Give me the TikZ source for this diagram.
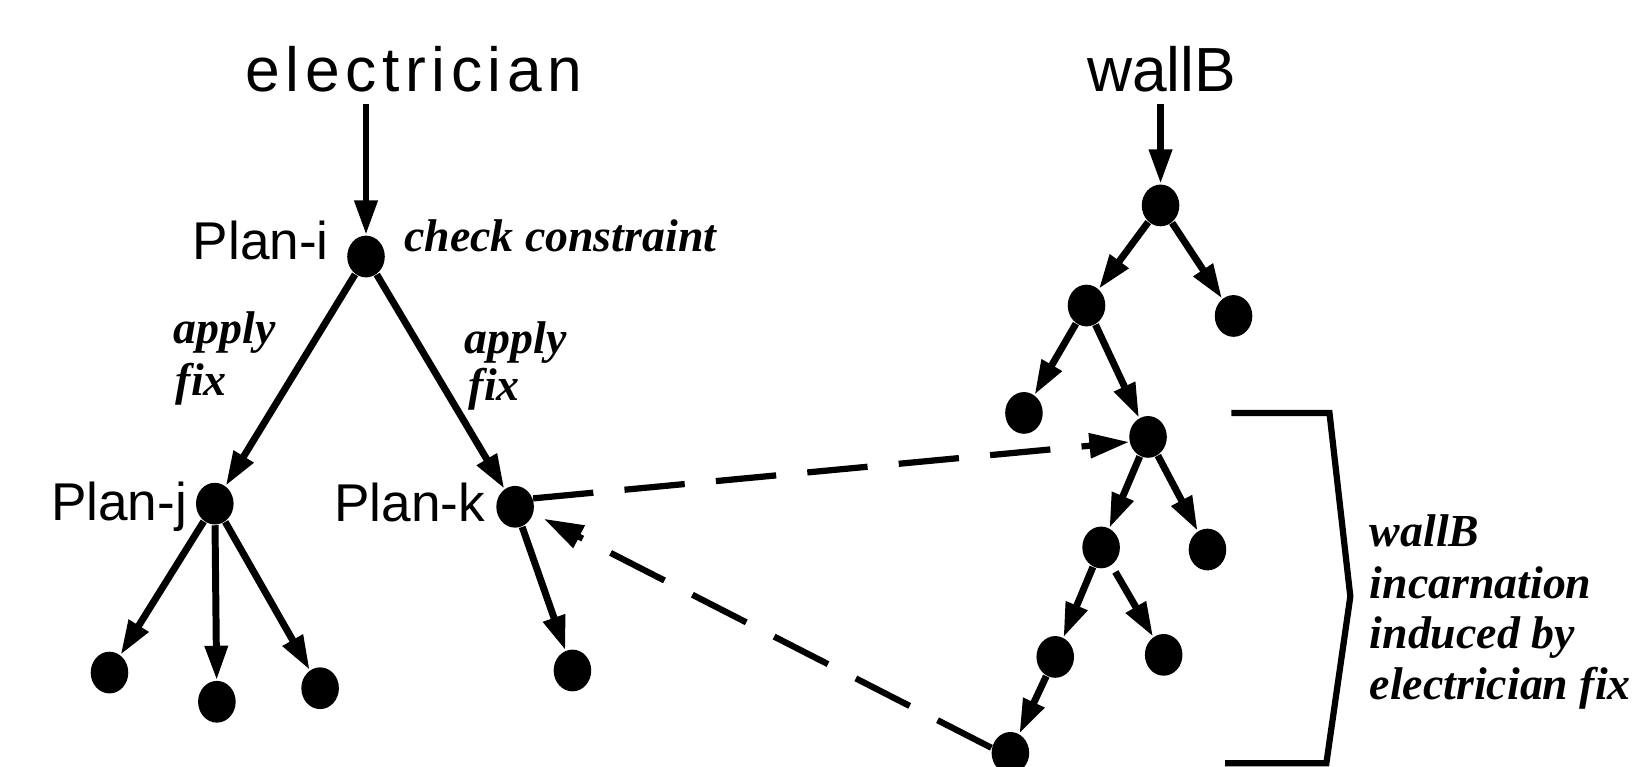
\documentclass[tikz,border=0pt]{standalone}
\usepackage{fontspec}
\setmainfont{Liberation Serif}
\newfontfamily\plansans{Liberation Sans}
\newfontfamily\widesans[LetterSpace=9]{Liberation Sans}
\usetikzlibrary{arrows.meta,shapes.geometric}

\tikzset{
  dot/.style={ellipse, fill=black, inner sep=0pt, minimum width=0.36cm, minimum height=0.40cm},
  edge/.style={line width=1.9pt, -{Triangle[length=0.33cm,width=0.21cm]}},
  link/.style={line width=1.7pt, dash pattern=on 0.58cm off 0.3cm,
    -{Triangle[length=0.38cm,width=0.23cm]}},
  note/.style={font=\fontsize{12.5}{14}\selectfont\bfseries\itshape, inner sep=0pt, anchor=base west},
  treename/.style={font=\fontsize{17}{20}\selectfont, inner sep=0pt, anchor=base},
  plan/.style={font=\plansans\fontsize{14.5}{17}\selectfont, inner sep=0pt, anchor=base east},
  bracket/.style={line width=1.7pt},
}

\begin{document}
\begin{tikzpicture}[x=0.01cm, y=-0.01cm]
\useasboundingbox (0,0) rectangle (1568,735);

% ---------- electrician tree ----------
\node[treename, font=\widesans\fontsize{17}{20}\selectfont] (elec) at (397,88) {electrician};
\coordinate (etop) at (351,100);
\node[dot] (pi) at (351,246) {};
\node[dot] (pj) at (206,483) {};
\node[dot] (pk) at (494,486) {};
\node[dot] (j1) at (105,645) {};
\node[dot] (j2) at (208,673) {};
\node[dot] (j3) at (307,660) {};
\node[dot] (k1) at (549,643) {};

\node[plan] (pilab) at (316,249) {Plan-i};
\node[plan] (pjlab) at (180,499) {Plan-j};
\node[plan] (pklab) at (466,500) {Plan-k};

\node[note] (check) at (387,241) {check constraint};
\node[note] (apl1) at (166,329) {apply};
\node[note] (fix1) at (168,379) {fix};
\node[note] (apl2) at (445,339) {apply};
\node[note] (fix2) at (449,384) {fix};

\draw[edge] (etop) -- (pi);
\draw[edge] (pi) -- (pj);
\draw[edge] (pi) -- (pk);
\draw[edge] (pj) -- (j1);
\draw[edge] (pj) -- (j2);
\draw[edge] (pj) -- (j3);
\draw[edge] (pk) -- (k1);

% ---------- wallB tree ----------
\node[treename, font=\plansans\fontsize{17}{20}\selectfont] (wall) at (1114,88) {wallB};
\coordinate (wtop) at (1113,100);
\node[dot] (w0) at (1113,197) {};
\node[dot] (w1) at (1042,293) {};
\node[dot] (w2) at (1183,303) {};
\node[dot] (w3) at (982,396) {};
\node[dot] (w4) at (1101,419) {};
\node[dot] (w5) at (1056,525) {};
\node[dot] (w6) at (1158,527) {};
\node[dot] (w7) at (1012,630) {};
\node[dot] (w8) at (1116,628) {};
\node[dot] (w9) at (969,722) {};

\draw[edge] (wtop) -- (w0);
\draw[edge] (w0) -- (w1);
\draw[edge] (w0) -- (w2);
\draw[edge] (w1) -- (w3);
\draw[edge] (w1) -- (w4);
\draw[edge] (w4) -- (w5);
\draw[edge] (w4) -- (w6);
\draw[edge] (w5) -- (w7);
\draw[edge, shorten <=0.07cm] (w5) -- (w8);
\draw[edge] (w7) -- (w9);

% ---------- cross links ----------
\draw[link] (pk.25) -- (w4.195);
\draw[link, shorten >=0.11cm] (w9.165) -- (pk.-20);

% ---------- bracket and its note ----------
\draw[bracket] (1181,396) -- (1275,396) -- (1295,572) -- (1272,732) -- (1175,732);
\node[note] (n1) at (1313,524) {wallB};
\node[note] (n2) at (1313,574) {incarnation};
\node[note] (n3) at (1313,622) {induced by};
\node[note] (n4) at (1313,671) {electrician fix};
\end{tikzpicture}
\end{document}
